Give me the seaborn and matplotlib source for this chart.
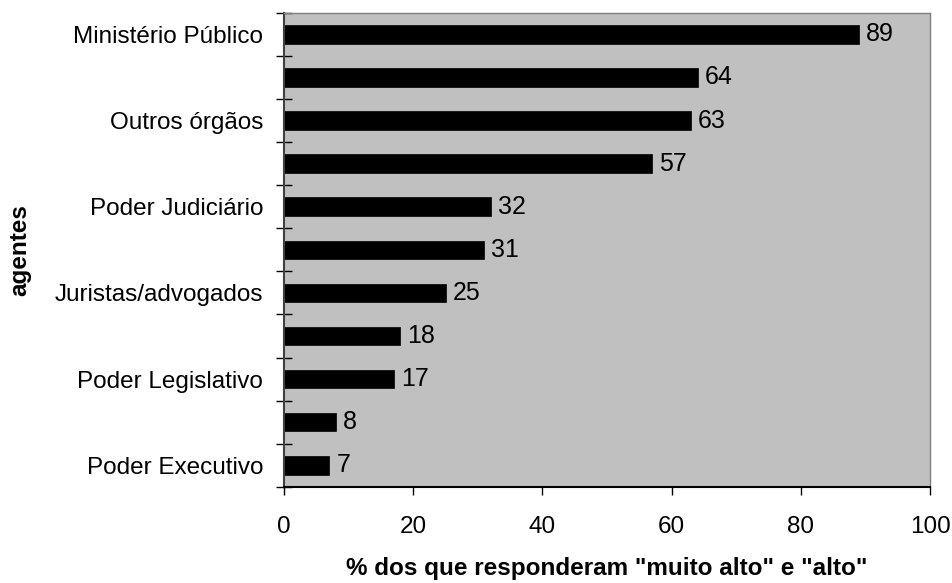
import pandas as pd
import numpy as np
import matplotlib
matplotlib.use("Agg")
import matplotlib.pyplot as plt
import seaborn as sns

# data, top to bottom (only every other label is shown)
labels = ["Ministério Público", "", "Outros órgãos", "", "Poder Judiciário", "",
          "Juristas/advogados", "", "Poder Legislativo", "", "Poder Executivo"]
values = [89, 64, 63, 57, 32, 31, 25, 18, 17, 8, 7]

df = pd.DataFrame({"pos": [str(i) for i in range(len(values))], "value": values})

sns.set_style("white")
plt.rcParams["font.family"] = ["Liberation Sans", "DejaVu Sans"]
plt.rcParams["text.color"] = "black"
plt.rcParams["axes.labelcolor"] = "black"
plt.rcParams["xtick.color"] = "black"
plt.rcParams["ytick.color"] = "black"

fig, ax = plt.subplots(figsize=(9.53, 5.83), dpi=100)
sns.barplot(x="value", y="pos", data=df, color="black", width=0.43,
            saturation=1, edgecolor="black", linewidth=0.5, ax=ax)

ax.set_facecolor("#c0c0c0")
ax.set_xlim(0, 100)
ax.set_ylim(len(values) - 0.5, -0.5)
ax.set_xticks(range(0, 101, 20))
ax.tick_params(axis="x", bottom=True, labelsize=17.5, length=6, width=1,
               direction="out", pad=15)
ax.set_yticks(range(len(values)))
ax.set_yticklabels(labels)
ax.tick_params(axis="y", which="major", left=True, length=0, labelsize=17.5, pad=15)
ax.set_yticks(np.arange(-0.5, len(values)), minor=True)
ax.tick_params(axis="y", which="minor", left=True, length=12, width=1,
               direction="inout")

for i, v in enumerate(values):
    ax.text(v + 1.1, i, str(v), va="center", ha="left", fontsize=18)

for side in ["top", "right"]:
    ax.spines[side].set_color("#808080")
    ax.spines[side].set_linewidth(1)
ax.spines["left"].set_color("#404040")
ax.spines["left"].set_linewidth(1.5)
ax.spines["bottom"].set_color("black")
ax.spines["bottom"].set_linewidth(1.5)

ax.set_xlabel('% dos que responderam "muito alto" e "alto"', fontsize=17.5,
              fontweight="bold", labelpad=14)
ax.set_ylabel("agentes", fontsize=17.5, fontweight="bold", labelpad=17)

plt.subplots_adjust(left=0.298, right=0.976, top=0.978, bottom=0.165)
plt.savefig("out.png", dpi=100)
